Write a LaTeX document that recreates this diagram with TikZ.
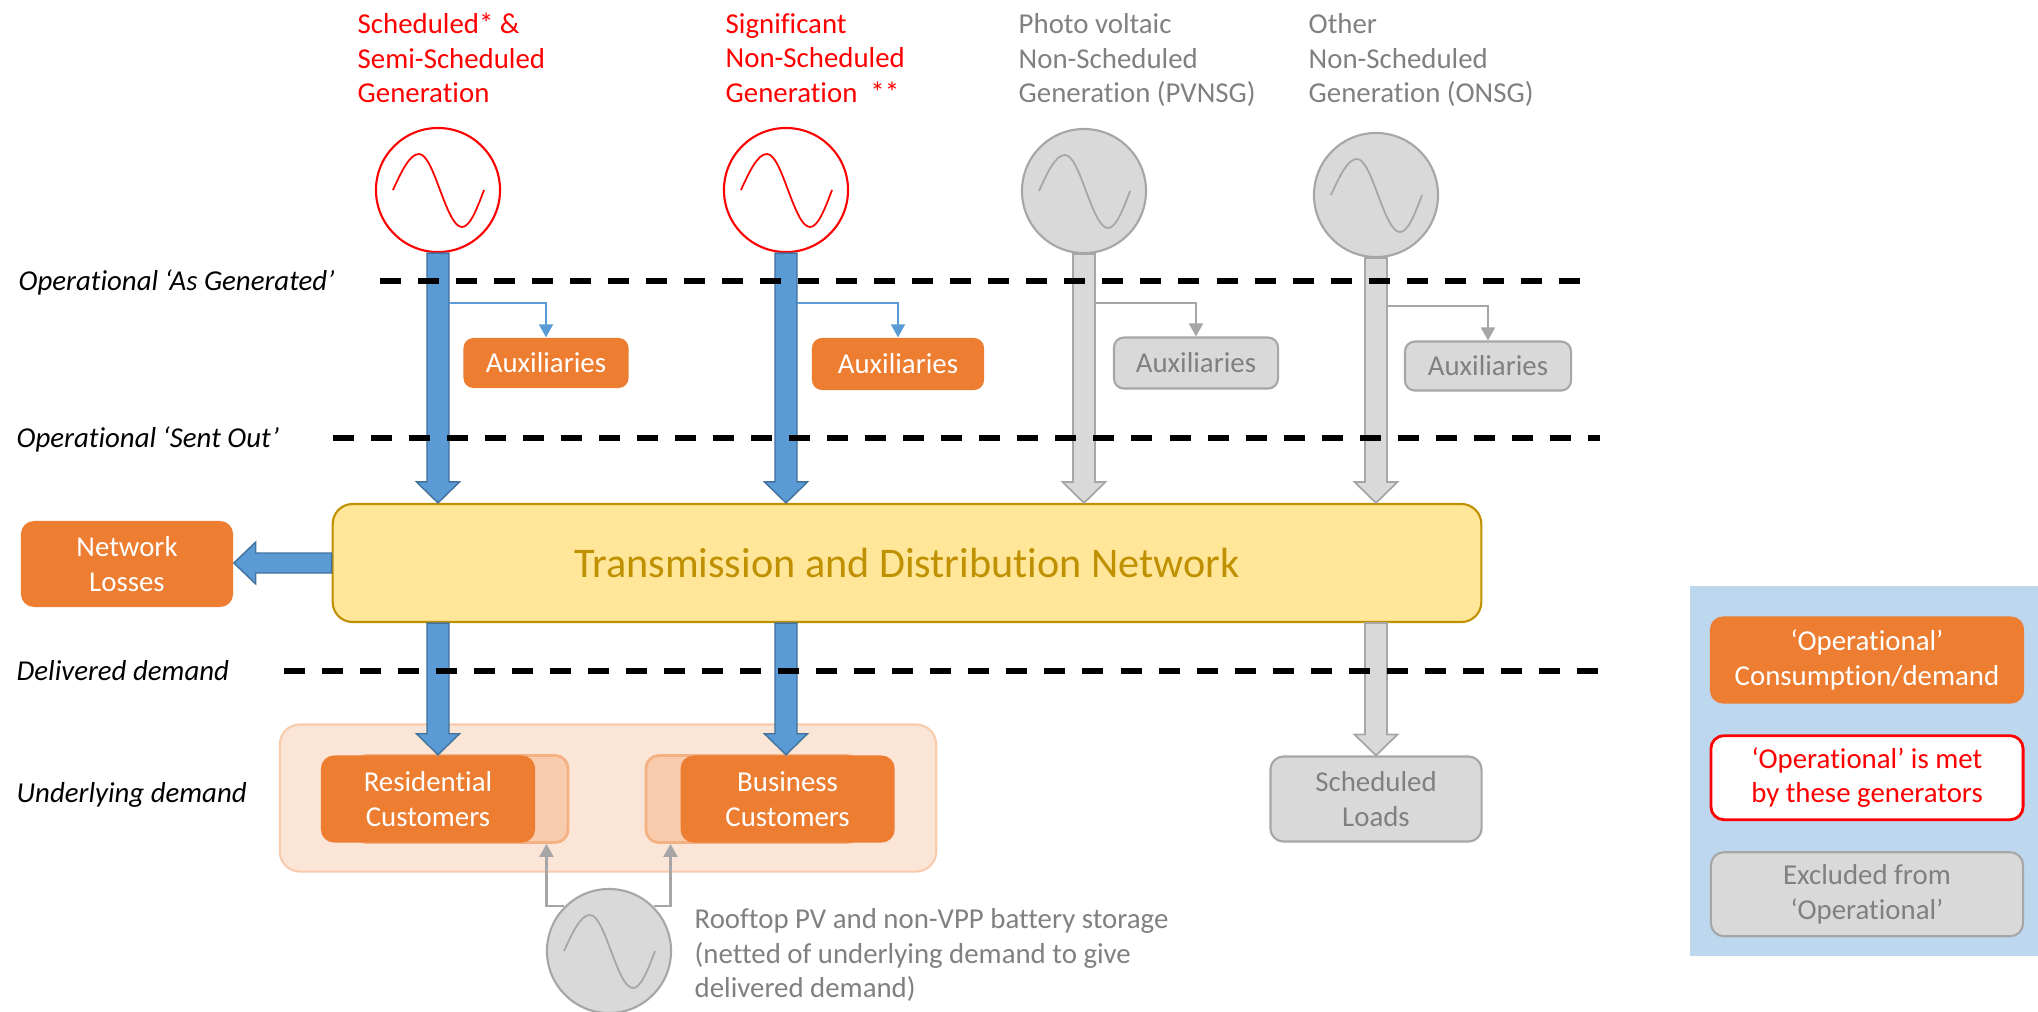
\documentclass[tikz,border=0pt]{standalone}
\usepackage{fontspec}
\setmainfont{Carlito}[Ligatures=NoCommon]
\usepackage{xcolor}
\usetikzlibrary{positioning, arrows.meta, calc}

\definecolor{flowblue}{HTML}{5B9BD5}
\definecolor{flowblueedge}{HTML}{41719C}
\definecolor{genred}{HTML}{FF0000}
\definecolor{oporange}{HTML}{ED7D31}
\definecolor{custpale}{HTML}{FBE5D6}
\definecolor{custback}{HTML}{F8CBAD}
\definecolor{custbackedge}{HTML}{F4B183}
\definecolor{netyellow}{HTML}{FFE699}
\definecolor{netgold}{HTML}{BF9000}
\definecolor{boxgrey}{HTML}{D9D9D9}
\definecolor{edgegrey}{HTML}{A6A6A6}
\definecolor{textgrey}{HTML}{808080}
\definecolor{legendblue}{HTML}{BDD7EE}

\begin{document}
\begin{tikzpicture}[
    x=0.01cm, y=-0.01cm,
    node distance=0.3cm,
    every node/.style={font=\fontsize{8.2}{9.8}\selectfont},
    box/.style={rectangle, rounded corners=0.1cm, align=center, inner sep=0pt},
    opbox/.style={box, fill=oporange, text=white},
    exbox/.style={box, fill=boxgrey, draw=edgegrey, line width=0.6pt, text=textgrey},
    ghost/.style={box, fill=custback, draw=custbackedge, line width=0.8pt, rounded corners=0.13cm, minimum width=2.14cm, minimum height=0.87cm},
    gen/.style={circle, minimum size=1.24cm, inner sep=0pt, line width=0.6pt,
      path picture={\draw[#1, line width=0.5pt] ($(path picture bounding box.center)+(-0.45cm,0)$)
        sin ++(0.26cm,0.36cm) cos ++(0.21cm,-0.36cm) sin ++(0.22cm,-0.37cm) cos ++(0.22cm,0.37cm);}},
    redgen/.style={gen=genred, draw=genred, fill=white},
    greygen/.style={gen=edgegrey, draw=edgegrey, fill=boxgrey},
    toplabel/.style={align=left, anchor=west, inner sep=0pt},
    level/.style={font=\fontsize{8.2}{9.8}\selectfont\itshape, anchor=base west, inner sep=0pt},
    divider/.style={dash pattern=on 0.21cm off 0.17cm, line width=1.6pt},
    downflow/.style={to path={let \p1=(\tikztostart), \p2=(\tikztotarget) in
      (\x1-0.11cm,\y1) -- (\x1-0.11cm,\y2+0.21cm) -- (\x1-0.215cm,\y2+0.21cm) -- (\x1,\y2)
      -- (\x1+0.215cm,\y2+0.21cm) -- (\x1+0.11cm,\y2+0.21cm) -- (\x1+0.11cm,\y1) -- cycle}},
    leftflow/.style={to path={let \p1=(\tikztostart), \p2=(\tikztotarget) in
      (\x1,\y1+0.1cm) -- (\x2+0.22cm,\y1+0.1cm) -- (\x2+0.22cm,\y1+0.21cm) -- (\x2,\y1)
      -- (\x2+0.22cm,\y1-0.21cm) -- (\x2+0.22cm,\y1-0.1cm) -- (\x1,\y1-0.1cm) -- cycle}},
    blueflow/.style={fill=flowblue, draw=flowblueedge, line width=0.4pt},
    greyflow/.style={fill=boxgrey, draw=edgegrey, line width=0.5pt},
    tap/.style={line width=0.6pt, -{Triangle[length=0.13cm, width=0.14cm]}}
]
\useasboundingbox (0,0) rectangle (2038,1011);

% Legend background
\fill[legendblue] (1690,586) rectangle (2038,956);

% Generators
\node[redgen] (g1) at (438,190) {};
\node[redgen] (g2) at (786,190) {};
\node[greygen] (pv) at (1084,191) {};
\node[greygen] (onsg) at (1376,195) {};

% Generator labels
\node[toplabel, text=genred] (lblsched) at (357,58) {Scheduled* \&\\Semi-Scheduled\\Generation};
\node[toplabel, text=genred] (lblsig) at (725,58) {Significant\\Non-Scheduled\\Generation \ **};
\node[toplabel, text=textgrey] (lblpv) at (1018,60) {Photo voltaic\\Non-Scheduled\\Generation (PVNSG)};
\node[toplabel, text=textgrey] (lblonsg) at (1308,60) {Other\\Non-Scheduled\\Generation (ONSG)};

% Auxiliaries
\node[opbox, minimum width=1.65cm, minimum height=0.5cm] (aux1) at (546,363) {Auxiliaries};
\node[opbox, minimum width=1.72cm, minimum height=0.52cm] (aux2) at (898,364) {Auxiliaries};
\node[exbox, minimum width=1.64cm, minimum height=0.51cm] (aux3) at (1196,363) {Auxiliaries};
\node[exbox, minimum width=1.66cm, minimum height=0.49cm] (aux4) at (1488,366) {Auxiliaries};

% Network and losses
\node[box, fill=netyellow, draw=netgold, line width=0.6pt, rounded corners=0.2cm, minimum width=11.48cm, minimum height=1.18cm, text=netgold, font=\fontsize{12}{14}\selectfont] (net) at (907,563) {Transmission and Distribution Network};
\node[opbox, rounded corners=0.13cm, minimum width=2.12cm, minimum height=0.86cm] (losses) at (127,564) {Network\\Losses};

% Customers
\node[box, fill=custpale, draw=custback, line width=0.6pt, rounded corners=0.2cm, minimum width=6.56cm, minimum height=1.47cm] (cust) at (608,798) {};
\node[ghost] (resback) at (461,799) {};
\node[ghost] (busback) at (753,799) {};
\node[opbox, rounded corners=0.13cm, minimum width=2.14cm, minimum height=0.87cm] (res) at (428,799) {Residential\\Customers};
\node[opbox, rounded corners=0.13cm, minimum width=2.14cm, minimum height=0.87cm, right=1.44cm of res] (bus) {Business\\Customers};
\node[exbox, rounded corners=0.13cm, minimum width=2.11cm, minimum height=0.85cm] (loads) at (1376,799) {Scheduled\\Loads};

% Rooftop PV
\node[greygen] (roof) at (609,951) {};
\node[toplabel, text=textgrey] (lblroof) at (694,955) {Rooftop PV and non-VPP battery storage\\(netted of underlying demand to give\\delivered demand)};

% Legend
\node[opbox, rounded corners=0.13cm, minimum width=3.14cm, minimum height=0.87cm] (legop) at (1867,660) {‘Operational’\\Consumption/demand};
\node[box, fill=white, draw=genred, line width=0.8pt, text=genred, rounded corners=0.13cm, minimum width=3.12cm, minimum height=0.84cm, below=0.3cm of legop] (legmet) {‘Operational’ is met\\by these generators};
\node[exbox, rounded corners=0.13cm, minimum width=3.12cm, minimum height=0.84cm, below=0.3cm of legmet] (legex) {Excluded from\\‘Operational’};

% Level labels
\node[level] (lvlgen) at (18,290) {Operational ‘As Generated’};
\node[level] (lvlsent) at (16,447) {Operational ‘Sent Out’};
\node[level] (lvldel) at (16,680) {Delivered demand};
\node[level] (lvlund) at (16,802) {Underlying demand};

% Flows
\draw[blueflow, downflow] (g1.south) to (g1.south |- net.north);
\draw[blueflow, downflow] (g2.south) to (g2.south |- net.north);
\draw[greyflow, downflow] (pv.south) to (pv.south |- net.north);
\draw[greyflow, downflow] (onsg.south) to (onsg.south |- net.north);
\draw[blueflow, downflow] (net.south -| g1.south) to (g1.south |- res.north);
\draw[blueflow, downflow] (net.south -| g2.south) to (g2.south |- bus.north);
\draw[greyflow, downflow] (net.south -| onsg.south) to (onsg.south |- loads.north);
\draw[blueflow, leftflow] (net.west) to (losses.east);

% Auxiliary taps
\draw[tap, flowblue] ($(g1.south)+(11,50)$) -| (aux1.north);
\draw[tap, flowblue] ($(g2.south)+(11,50)$) -| (aux2.north);
\draw[tap, edgegrey] ($(pv.south)+(11,49)$) -| (aux3.north);
\draw[tap, edgegrey] ($(onsg.south)+(11,48)$) -| (aux4.north);

% Rooftop PV netting
\draw[tap, edgegrey] (roof.135) -| ($(resback.south east)+(-23,0)$);
\draw[tap, edgegrey] (roof.45) -| ($(busback.south west)+(26,0)$);

% Dividers
\draw[divider] (380,281) -- (1591,281);
\draw[divider] (333,438) -- (1600,438);
\draw[divider] (284,671) -- (1603,671);
\end{tikzpicture}
\end{document}
